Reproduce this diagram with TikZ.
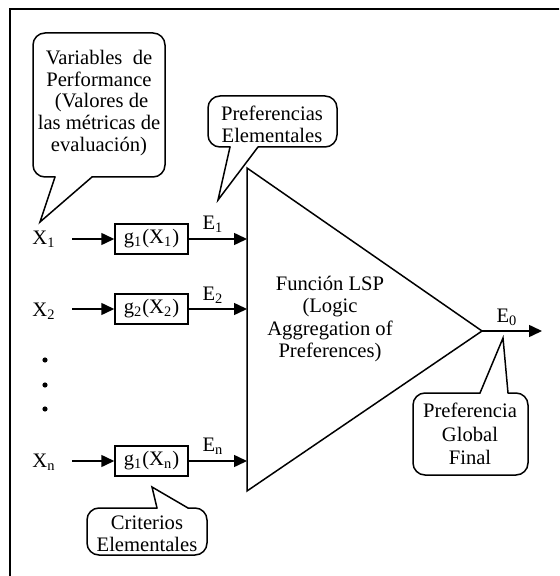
\documentclass[tikz,border=0pt]{standalone}
\usepackage{fontspec}
\setmainfont{Liberation Serif}
\usetikzlibrary{arrows.meta}
\begin{document}
\begin{tikzpicture}[x=0.5pt,y=-0.5pt,line width=0.75pt,
  lbl/.style={inner sep=0pt,font=\fontsize{10.3}{11}\selectfont,align=center},
  gbox/.style={draw,minimum width=36.5pt,minimum height=15pt,inner sep=0pt,font=\fontsize{10.3}{11}\selectfont},
  arr/.style={-{Triangle[length=6.5pt,width=6pt]}},
  callout/.style={line width=0.75pt,line cap=round,line join=miter},
  dot/.style={circle,fill,inner sep=0pt,minimum size=2.6pt}]
\useasboundingbox (0,0) rectangle (559,576);
% frame (cropped at right and bottom)
\begin{scope}
\clip (0,0) rectangle (559,576);
\draw[line width=1pt] (9.5,9.5) rectangle (620,640);
\end{scope}

% triangle
\coordinate (tt) at (247,168);
\coordinate (tb) at (247,491);
\coordinate (ta) at (482,331);
\draw[line join=miter] (tt) -- (ta) -- (tb) -- cycle;
\node[lbl,font=\fontsize{10.3}{11.3}\selectfont] (lsp) at (330,319) {Función LSP\\(Logic\\Aggregation of\\Preferences)};

% rows
\coordinate (e1) at (247,239);
\coordinate (e2) at (247,309);
\coordinate (en) at (247,462);
\node[lbl] (x1) at (44,239) {X\textsubscript{1}};
\node[lbl] (x2) at (44,311) {X\textsubscript{2}};
\node[lbl] (xn) at (44,462) {X\textsubscript{n}};
\node[gbox] (g1) at (151.5,239) {g\textsubscript{1}(X\textsubscript{1})};
\node[gbox] (g2) at (151.5,309) {g\textsubscript{2}(X\textsubscript{2})};
\node[gbox] (gn) at (151.5,461) {g\textsubscript{1}(X\textsubscript{n})};
\draw[arr] (72,239) -- (g1.west);
\draw[arr] (72,309) -- (g2.west);
\draw[arr] (72,461) -- (gn.west);
\draw[arr] (g1.east) -- (e1);
\draw[arr] (g2.east) -- (e2);
\draw[arr] (gn.east) -- (gn.east -| en);
\node[lbl] (E1) at (213,224) {E\textsubscript{1}};
\node[lbl] (E2) at (213,295) {E\textsubscript{2}};
\node[lbl] (En) at (213,446) {E\textsubscript{n}};

% dots
\node[dot] (d1) at (45,360) {};
\node[dot] (d2) at (45,385) {};
\node[dot] (d3) at (45,409) {};

% output
\coordinate (out) at (542,331);
\draw[arr] (ta) -- (out);
\node[lbl] (E0) at (507,317) {E\textsubscript{0}};

% callout: Variables de Performance
\node[lbl,font=\fontsize{10.3}{10.9}\selectfont] (cv) at (99,103) {Variables\enspace de\\Performance\\\ (Valores de\\las métricas de\\evaluación)};
\draw[callout,rounded corners=6pt] (92,177) -- (165,177) -- (165,33) -- (33,33) -- (33,177) -- (55,177);
\draw[callout] (55,177) -- (40,222) -- (92,177);

% callout: Preferencias Elementales
\node[lbl] (cp) at (272,124) {Preferencias\\Elementales};
\draw[callout,rounded corners=6pt] (258,147) -- (337,147) -- (337,96) -- (208,96) -- (208,147) -- (230,147);
\draw[callout] (230,147) -- (218,200) -- (258,147);

% callout: Criterios Elementales
\node[lbl] (cc) at (147,534) {Criterios\\Elementales};
\draw[callout,rounded corners=6pt] (157,508) -- (87,508) -- (87,555) -- (207,555) -- (207,508) -- (188,508);
\draw[callout] (157,508) -- (152,487) -- (188,508);

% callout: Preferencia Global Final
\node[lbl,font=\fontsize{10.3}{11.8}\selectfont] (cg) at (470,434) {Preferencia\\Global\\Final};
\draw[callout,rounded corners=6pt] (480,393) -- (413,393) -- (413,475) -- (528,475) -- (528,393) -- (508,393);
\draw[callout] (480,393) -- (503,338) -- (508,393);
\end{tikzpicture}
\end{document}
